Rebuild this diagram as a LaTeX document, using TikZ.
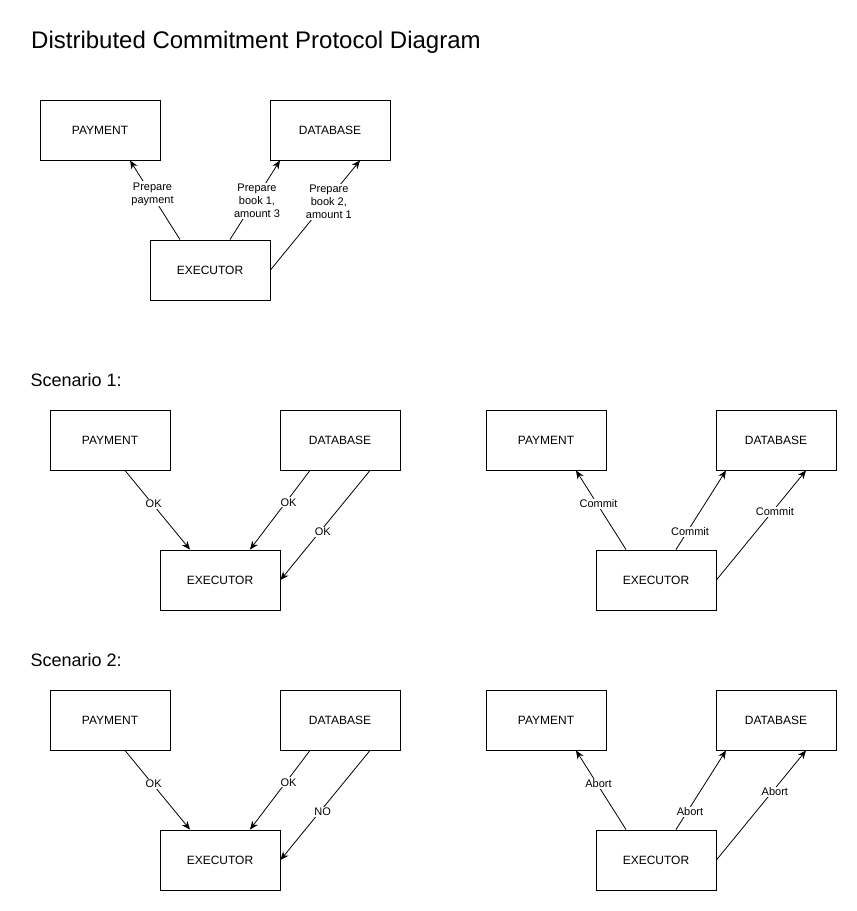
\documentclass[tikz,border=0pt]{standalone}
\usepackage{fontspec}
\setmainfont{Liberation Sans}
\usetikzlibrary{arrows.meta}

\begin{document}
\begin{tikzpicture}[x=1pt, y=-1pt,
    box/.style={draw, line width=0.9pt, minimum width=120pt, minimum height=60pt, font=\fontsize{12}{14}\selectfont},
    msg/.style={draw, line width=0.8pt, -{Stealth[length=8.5pt,width=7pt]}},
    lbl/.style={fill=white, inner sep=1pt, align=center, xshift=2pt, yshift=-1pt, font=\fontsize{11}{13}\selectfont}]
\useasboundingbox (0,0) rectangle (857,911);
\node[anchor=base west, inner sep=0pt, font=\fontsize{24}{27}\selectfont] (title) at (31,48.5) {Distributed Commitment Protocol Diagram};
% prepare phase
\node[box] (pay0) at (100,130) {PAYMENT};
\node[box] (db0) at (330,130) {DATABASE};
\node[box] (exe0) at (210,270) {EXECUTOR};
\draw[msg] ([xshift=-30pt]exe0.north) -- ([xshift=30pt]pay0.south) node[lbl, pos=0.59] {Prepare\\payment};
\draw[msg] ([xshift=20pt]exe0.north) -- ([xshift=-50pt]db0.south) node[lbl, pos=0.5] {Prepare\\book 1,\\amount 3};
\draw[msg] (exe0.east) -- ([xshift=30pt]db0.south) node[lbl, pos=0.63] {Prepare\\book 2,\\amount 1};
% scenarios
\foreach \sy/\num/\ans/\act in {0/1/OK/Commit, 280/2/NO/Abort} {
    \node[anchor=base west, inner sep=0pt, font=\fontsize{18}{20}\selectfont] (scn\num) at (30.5,{386.5+\sy}) {Scenario \num:};
    % votes
    \node[box] (payL\num) at (110,{440+\sy}) {PAYMENT};
    \node[box] (dbL\num) at (340,{440+\sy}) {DATABASE};
    \node[box] (exeL\num) at (220,{580+\sy}) {EXECUTOR};
    \draw[msg] ([xshift=15pt]payL\num.south) -- ([xshift=-30pt]exeL\num.north) node[lbl, pos=0.41] {OK};
    \draw[msg] ([xshift=-30pt]dbL\num.south) -- ([xshift=30pt]exeL\num.north) node[lbl, pos=0.39] {OK};
    \draw[msg] ([xshift=30pt]dbL\num.south) -- (exeL\num.east) node[lbl, pos=0.55] {\ans};
    % decision
    \node[box] (payR\num) at (546,{440+\sy}) {PAYMENT};
    \node[box] (dbR\num) at (776,{440+\sy}) {DATABASE};
    \node[box] (exeR\num) at (656,{580+\sy}) {EXECUTOR};
    \draw[msg] ([xshift=-30pt]exeR\num.north) -- ([xshift=30pt]payR\num.south) node[lbl, pos=0.59] {\act};
    \draw[msg] ([xshift=20pt]exeR\num.north) -- ([xshift=-50pt]dbR\num.south) node[lbl, pos=0.24] {\act};
    \draw[msg] (exeR\num.east) -- ([xshift=30pt]dbR\num.south) node[lbl, pos=0.63] {\act};
}
\end{tikzpicture}
\end{document}
